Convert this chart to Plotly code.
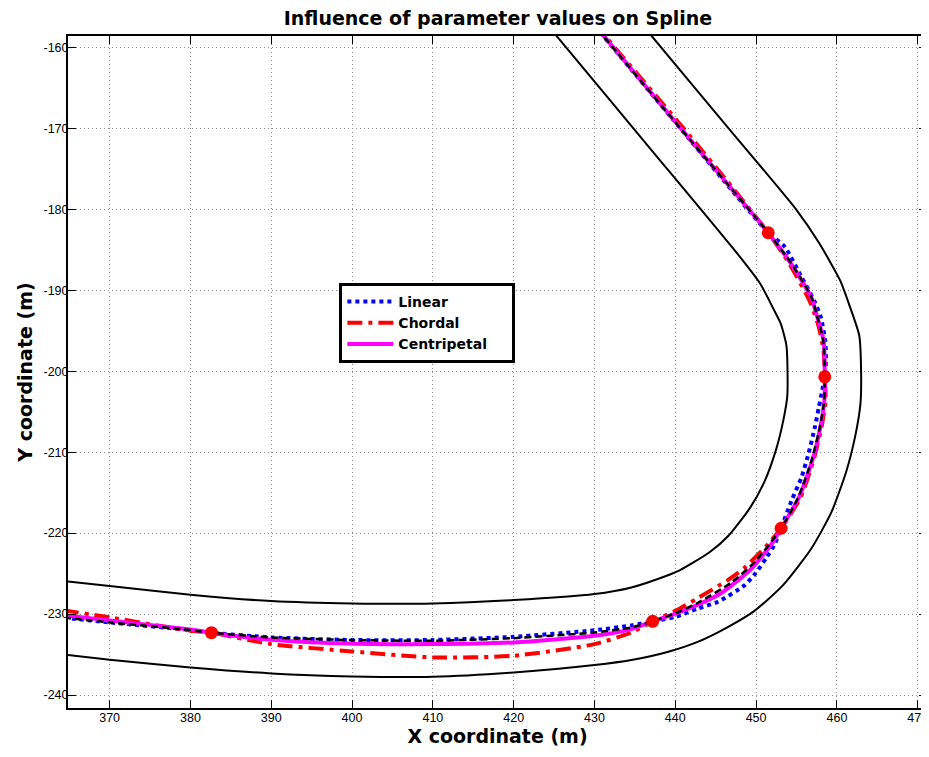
import plotly.graph_objects as go

TICK_FONT = "Liberation Sans, Arial, Helvetica, sans-serif"
BOLD_FONT = "DejaVu Sans, Verdana, sans-serif"

# Way points (red dots)
wp_x = [382.6, 437.2, 453.1, 458.5, 451.5]
wp_y = [-232.3, -230.9, -219.4, -200.7, -182.9]

# Road centre line (black dashed)
center_x = [364.3, 370, 380, 382.6, 390, 400, 410, 420, 430, 434.57, 437.2, 440, 442.81,
            446.94, 450, 453.1, 455.21, 456.86, 457.89, 458.43, 458.5, 458.31, 457.48,
            456.83, 454.36, 451.5, 440.8, 431.1, 430.6]
center_y = [-230.44, -231.03, -231.98, -232.3, -232.88, -233.21, -233.29, -232.97, -232.27,
            -231.65, -230.9, -229.9, -228.6, -226.1, -223.4, -219.4, -215.59, -211.05,
            -206.93, -203.63, -200.7, -196.21, -192.91, -190.81, -186.69, -182.9, -170.2,
            -158.6, -158.0]

# Linear parameterisation (blue dotted)
linear_x = [364.3, 370, 380, 382.6, 390, 400, 410, 420, 430, 434.57, 437.2, 440, 442.84,
            445.31, 448.6, 449.9, 451.3, 452.31, 453.1, 454.38, 455.62, 456.53, 457.27,
            457.77, 458.18, 458.5, 458.65, 458.55, 458.0, 457.2, 455.6, 453.54, 451.5,
            440.8, 431.1, 430.6]
linear_y = [-230.44, -231.03, -231.98, -232.3, -232.88, -233.2, -233.2, -232.8, -232.0,
            -231.4, -230.9, -230.35, -229.29, -228.47, -226.42, -225.0, -223.0, -221.36,
            -219.4, -216.0, -213.11, -210.02, -206.93, -204.45, -202.39, -200.7, -198.5,
            -196.2, -193.3, -191.3, -188.34, -184.63, -182.9, -170.2, -158.6, -158.0]

# Chordal parameterisation (red dash-dot)
chordal_x = [364.3, 370, 376.1, 380, 382.6, 390, 400, 410, 420, 430, 434.57, 437.2, 440,
             442.84, 446.5, 448.6, 451.49, 453.1, 455.5, 457.1, 458.1, 458.6, 458.5, 458.35,
             457.75, 456.7, 454.1, 451.5, 446.4, 441.1, 431.3, 430.8]
chordal_y = [-229.55, -230.4, -231.44, -232.06, -232.3, -233.71, -234.61, -235.35, -235.15,
             -233.71, -232.27, -230.9, -229.6, -228.0, -225.8, -224.25, -221.36, -219.4,
             -215.6, -211.0, -206.9, -203.6, -200.7, -197.5, -194.5, -191.5, -186.69,
             -182.9, -176.5, -170.1, -158.6, -158.0]

# Centripetal parameterisation (magenta solid)
centri_x = [364.3, 370, 380, 382.6, 390, 398.35, 410, 420, 430, 434.57, 437.2, 440, 442.8,
            445.7, 449.42, 451.9, 453.1, 455.3, 456.95, 457.95, 458.45, 458.5, 458.35,
            457.45, 456.8, 454.3, 451.5, 440.85, 431.15, 430.65]
centri_y = [-230.15, -230.8, -231.9, -232.3, -233.17, -233.6, -233.71, -233.5, -232.68,
            -231.85, -230.9, -229.95, -228.85, -227.4, -224.4, -221.36, -219.4, -215.6,
            -211.05, -206.93, -203.6, -200.7, -196.2, -192.9, -190.81, -186.69, -182.9,
            -170.2, -158.6, -158.0]

# Road boundaries (black solid)
inner_x = [364.3, 370, 380, 390, 400, 410, 420, 430, 434.57, 439.1, 440.6, 444.24,
           446.61, 449.27, 451.01, 452.47, 453.39, 453.85, 453.9, 453.75, 453.05, 452.3,
           450.55, 447.98, 436.9, 425.56, 424.8]
inner_y = [-225.9, -226.54, -227.61, -228.39, -228.68, -228.68, -228.27, -227.53, -226.71,
           -225.2, -224.57, -222.37, -220.29, -216.85, -213.7, -209.69, -205.98, -203.18,
           -200.77, -196.81, -194.12, -192.6, -189.26, -185.86, -172.5, -158.89, -158.0]

outer_x = [364.3, 370, 380, 390, 400, 410, 420, 430, 434.57, 439.14, 442.84, 446.5, 449.8,
           453.31, 456.84, 459.31, 461.16, 462.3, 462.91, 463.0, 462.77, 461.5, 460.4,
           457.8, 454.95, 446.6, 437.08, 436.58]
outer_y = [-235.0, -235.64, -236.59, -237.33, -237.70, -237.74, -237.21, -236.3, -235.68,
           -234.65, -233.4, -231.6, -229.6, -226.45, -221.9, -217.44, -212.38, -207.86,
           -204.07, -200.63, -195.62, -191.72, -188.79, -184.17, -180.01, -170.0, -158.6,
           -158.0]

series_names = ["Linear", "Chordal", "Centripetal"]
x_ticks = [370, 380, 390, 400, 410, 420, 430, 440, 450, 460, 470]
x_tick_text = ["370", "380", "390", "400", "410", "420", "430", "440", "450", "460", "470"]
y_ticks = [-240, -230, -220, -210, -200, -190, -180, -170, -160]
y_tick_text = ["-240", "-230", "-220", "-210", "-200", "-190", "-180", "-170", "-160"]

PAD = "\u00a0" * 4

fig = go.Figure()

fig.add_trace(go.Scatter(x=linear_x, y=linear_y, mode="lines", name=series_names[0],
                         line=dict(color="#0000ff", width=4, dash="4px,4px", shape="spline",
                                   smoothing=0.6)))
fig.add_trace(go.Scatter(x=chordal_x, y=chordal_y, mode="lines", name=series_names[1],
                         line=dict(color="#ff0000", width=4, dash="15px,6px,4px,6px",
                                   shape="spline", smoothing=0.6)))
fig.add_trace(go.Scatter(x=centri_x, y=centri_y, mode="lines", name=series_names[2] + PAD,
                         line=dict(color="#ff00ff", width=4, shape="spline", smoothing=0.6)))
fig.add_trace(go.Scatter(x=center_x, y=center_y, mode="lines", showlegend=False,
                         line=dict(color="black", width=2.5, dash="7px,4px", shape="spline",
                                   smoothing=0.6)))
fig.add_trace(go.Scatter(x=inner_x, y=inner_y, mode="lines", showlegend=False,
                         line=dict(color="black", width=2, shape="spline", smoothing=0.6)))
fig.add_trace(go.Scatter(x=outer_x, y=outer_y, mode="lines", showlegend=False,
                         line=dict(color="black", width=2, shape="spline", smoothing=0.6)))
fig.add_trace(go.Scatter(x=wp_x, y=wp_y, mode="markers", showlegend=False,
                         marker=dict(color="#ff0000", size=13)))

axis_common = dict(
    showline=True, linecolor="black", linewidth=2, mirror="ticks",
    ticks="inside", ticklen=8, tickwidth=1, tickcolor="black",
    showgrid=True, gridcolor="#8a8a8a", gridwidth=1, griddash="1px,3px",
    zeroline=False, tickfont=dict(family=TICK_FONT, size=12.5, color="black"),
)

# The page body has an 8px margin, so the figure is sized 8px smaller.
fig.update_layout(
    width=921, height=749,
    margin=dict(l=60, r=0, t=28, b=49),
    paper_bgcolor="white", plot_bgcolor="white",
    title=dict(text="Influence of parameter values on Spline",
               font=dict(family=BOLD_FONT, size=19, color="black", weight="bold"),
               x=490 / 921, xanchor="center", y=1 - 10.5 / 749, yanchor="middle",
               xref="container", yref="container"),
    xaxis=dict(range=[364.85, 471.15], tickvals=x_ticks, ticktext=x_tick_text,
               ticklabelstandoff=-3,
               title=dict(text="X coordinate (m)",
                          font=dict(family=BOLD_FONT, size=19, color="black", weight="bold"),
                          standoff=3),
               **axis_common),
    yaxis=dict(range=[-241.6, -158.6], tickvals=y_ticks, ticktext=y_tick_text,
               ticklabelstandoff=-5,
               title=dict(text="Y coordinate (m)",
                          font=dict(family=BOLD_FONT, size=19, color="black", weight="bold"),
                          standoff=6),
               **axis_common),
    legend=dict(x=(340 - 68) / 861, y=(708 - 283) / 672, xanchor="left", yanchor="top",
                bgcolor="white", bordercolor="black", borderwidth=3,
                font=dict(family=BOLD_FONT, size=14, color="black", weight="bold"),
                itemwidth=46),
    showlegend=True,
)

fig.write_html("out.html")
